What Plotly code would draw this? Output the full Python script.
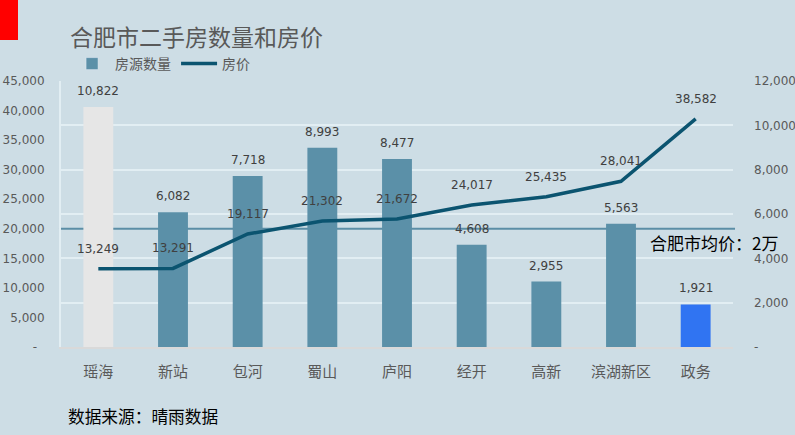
import plotly.graph_objects as go

categories = ['瑶海', '新站', '包河', '蜀山', '庐阳', '经开', '高新', '滨湖新区', '政务']
listings = [10822, 6082, 7718, 8993, 8477, 4608, 2955, 5563, 1921]
prices = [13249, 13291, 19117, 21302, 21672, 24017, 25435, 28041, 38582]
avg_price = 20000

left_ticks = list(range(0, 45001, 5000))
right_ticks = list(range(0, 12001, 2000))

BG = '#CDDDE5'
TEAL = '#5B90A8'
LINE = '#0B5470'
NUM_FONT = 'DejaVu Sans, Noto Sans CJK SC'
CJK = 'Noto Sans CJK SC, Microsoft YaHei, sans-serif'

bar_colors = [TEAL] * len(categories)
bar_colors[0] = '#E6E6E6'
bar_colors[-1] = '#3074F2'

W, H = 795, 435
ML, MR, MT, MB = 61, 62, 81, 88
PW, PH = W - ML - MR, H - MT - MB

fig = go.Figure()
fig.add_trace(go.Bar(x=categories, y=listings, name='房源数量', marker=dict(color=bar_colors, line=dict(width=0)),
                     width=0.4, yaxis='y', showlegend=False, legendgroup='bars'))
# legend entry for bars (teal swatch)
fig.add_trace(go.Bar(x=[None], y=[None], name='房源数量', marker=dict(color=TEAL), yaxis='y',
                     showlegend=True, legendgroup='bars'))
fig.add_trace(go.Scatter(x=categories, y=prices, name='房价', mode='lines', line=dict(color=LINE, width=3.5),
                         yaxis='y2'))

annotations = []
for c, v in zip(categories, listings):
    annotations.append(dict(x=c, y=v, xref='x', yref='y', text=f'{v:,}', showarrow=False,
                            yanchor='middle', yshift=16, font=dict(family=NUM_FONT, size=12, color='#404040')))
for c, v in zip(categories, prices):
    annotations.append(dict(x=c, y=v, xref='x', yref='y2', text=f'{v:,}', showarrow=False,
                            yanchor='middle', yshift=20, font=dict(family=NUM_FONT, size=12, color='#404040')))
annotations.append(dict(x=(648 - ML) / PW, y=avg_price, xref='paper', yref='y2', text='合肥市均价：2万',
                        showarrow=False, xanchor='left', yanchor='top', yshift=1,
                        font=dict(family=CJK, size=17, color='#000000')))
annotations.append(dict(x=(66 - ML) / PW, y=(MT + PH - 416) / PH, xref='paper', yref='paper', text='数据来源：晴雨数据',
                        showarrow=False, xanchor='left', yanchor='middle',
                        font=dict(family=CJK, size=16.7, color='#000000')))

shapes = [
    dict(type='line', xref='paper', yref='y2', x0=-0.003, x1=1.003, y0=avg_price, y1=avg_price,
         line=dict(color='#5B8EA6', width=2), layer='below'),
    dict(type='rect', xref='paper', yref='paper', x0=-ML / PW, x1=(18 - ML) / PW,
         y0=(MT + PH - 40) / PH, y1=(MT + PH) / PH, fillcolor='#FF0000', line=dict(width=0)),
]

fig.update_layout(
    width=W, height=H,
    margin=dict(l=ML, r=MR, t=MT, b=MB, autoexpand=False),
    paper_bgcolor=BG, plot_bgcolor=BG,
    title=dict(text='合肥市二手房数量和房价', x=70 / W, xanchor='left', y=1 - 38 / H, yanchor='middle',
               font=dict(family=CJK, size=23, color='#595959')),
    legend=dict(orientation='h', x=0.012, xanchor='left', y=(MT + PH - 64) / PH, yanchor='middle',
                font=dict(family=CJK, size=14, color='#595959'), bgcolor='rgba(0,0,0,0)', itemwidth=36),
    bargap=0.6,
    xaxis=dict(showline=True, linecolor='#D9D9D9', linewidth=2, showgrid=False, ticks='',
               tickfont=dict(family=CJK, size=15, color='#595959'), ticklabelstandoff=10, automargin=False),
    yaxis=dict(side='right', range=[0, 12000], tickvals=right_ticks,
               ticktext=['-'] + [f'{t:,}' for t in right_ticks[1:]],
               showgrid=True, gridcolor='#E2EEF3', gridwidth=2, zeroline=False, showline=False, automargin=False,
               tickfont=dict(family=NUM_FONT, size=12, color='#595959'), ticklabelstandoff=20),
    yaxis2=dict(side='left', overlaying='y', range=[0, 45000], tickvals=left_ticks,
                ticktext=['-\u00a0\u00a0'] + [f'{t:,}' for t in left_ticks[1:]],
                showgrid=False, zeroline=False, showline=True, linecolor='#E2EEF3', linewidth=2, automargin=False,
                tickfont=dict(family=NUM_FONT, size=12, color='#595959'), ticklabelstandoff=12),
    annotations=annotations,
    shapes=shapes,
    showlegend=True,
)

fig.write_html('out.html', config={'displayModeBar': False},
               post_script="document.body.style.margin='0';document.body.style.overflow='hidden';")
